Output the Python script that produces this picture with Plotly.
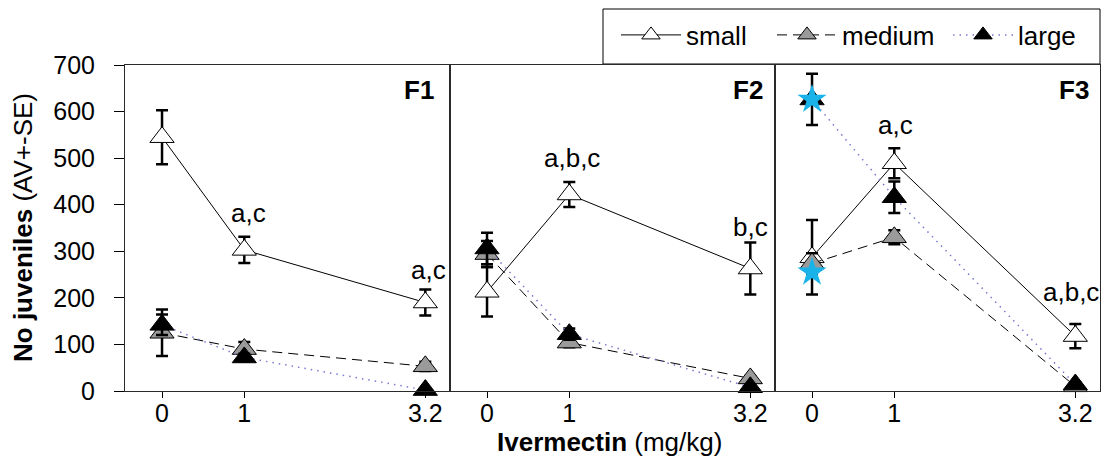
import plotly.graph_objects as go
from plotly.subplots import make_subplots

# Doses (mg/kg) and panel names
doses = [0, 1, 3.2]
dose_labels = ["0", "1", "3.2"]
farms = ["F1", "F2", "F3"]
y_ticks = [0, 100, 200, 300, 400, 500, 600, 700]

# Mean number of juveniles and standard errors per size class, per farm
small_f1 = [545, 303, 190]
small_se_f1 = [58, 28, 28]
medium_f1 = [125, 90, 53]
medium_se_f1 = [50, 15, 10]
large_f1 = [142, 72, 2]
large_se_f1 = [22, 8, 2]

small_f2 = [213, 422, 263]
small_se_f2 = [53, 27, 56]
medium_f2 = [294, 104, 27]
medium_se_f2 = [28, 10, 5]
large_f2 = [306, 122, 8]
large_se_f2 = [34, 12, 4]

small_f3 = [287, 489, 118]
small_se_f3 = [80, 32, 26]
medium_f3 = [274, 330, 10]
medium_se_f3 = [22, 15, 4]
large_f3 = [626, 416, 14]
large_se_f3 = [55, 34, 5]

# Highlighted control values in F3
star_dose_f3 = [0, 0]
star_value_f3 = [626, 255]

# Significance letters
sig_farm = [1, 1, 2, 2, 3, 3]
sig_dose = [1, 3.2, 1, 3.2, 1, 3.2]
sig_value = [383, 260, 500, 353, 571, 213]
sig_text = ["a,c", "a,c", "a,b,c", "b,c", "a,c", "a,b,c"]
sig_xshift = [4, 3, 3, 0, 1, -4]

small_means = [small_f1, small_f2, small_f3]
small_ses = [small_se_f1, small_se_f2, small_se_f3]
medium_means = [medium_f1, medium_f2, medium_f3]
medium_ses = [medium_se_f1, medium_se_f2, medium_se_f3]
large_means = [large_f1, large_f2, large_f3]
large_ses = [large_se_f1, large_se_f2, large_se_f3]

FONT = "Liberation Sans, Arial, sans-serif"
FRAME = "#2a2a2a"
TXT = 26

# plot area in pixels: x 125..1100, y 65..391
PX0, PW, PY0, PH = 125, 975, 391, 326


def paper_x(px):
    return (px - PX0) / PW


def paper_y(py):
    return (PY0 - py) / PH


fig = make_subplots(rows=1, cols=3, horizontal_spacing=0, shared_yaxes=True)

styles = [
    ("small", small_means, small_ses, "white",
     dict(color="black", width=1), "legend"),
    ("medium", medium_means, medium_ses, "#9a9a9a",
     dict(color="black", width=1, dash="10px,6px"), "legend2"),
    ("large", large_means, large_ses, "black",
     dict(color="#7a7ad0", width=1.5, dash="1.5px,5px"), "legend3"),
]

for col in range(1, 4):
    for name, means, ses, fill, line, leg in styles:
        fig.add_trace(
            go.Scatter(
                x=doses,
                y=means[col - 1],
                mode="lines+markers",
                name=name,
                legendgroup=name,
                legend=leg,
                showlegend=(col == 1),
                line=line,
                marker=dict(symbol="triangle-up", size=21, color=fill,
                            line=dict(color="black", width=1)),
                error_y=dict(type="data", array=ses[col - 1], visible=True,
                             color="black", thickness=2.5, width=6),
                cliponaxis=False,
            ),
            row=1, col=col,
        )

fig.add_trace(
    go.Scatter(
        x=star_dose_f3, y=star_value_f3, mode="markers", showlegend=False,
        marker=dict(symbol="star", size=22, color="#19b3ea", line=dict(width=0)),
        cliponaxis=False,
    ),
    row=1, col=3,
)

for col in range(1, 4):
    fig.update_xaxes(
        range=[-0.45, 3.5], tickvals=doses, ticktext=dose_labels,
        ticks="outside", ticklen=6, tickwidth=1, tickcolor="black",
        showline=True, linecolor=FRAME, linewidth=1, mirror=True,
        showgrid=False, zeroline=False, ticklabelstandoff=-6,
        tickfont=dict(family=FONT, size=25, color="black"),
        row=1, col=col,
    )
    fig.update_yaxes(
        range=[0, 700], tickvals=y_ticks,
        showline=True, linecolor=FRAME, linewidth=1, mirror=True,
        showgrid=False, zeroline=False,
        ticks="outside" if col == 1 else "", ticklen=10, tickwidth=1, tickcolor="black",
        showticklabels=(col == 1), ticklabelstandoff=14,
        tickfont=dict(family=FONT, size=25, color="black"),
        row=1, col=col,
    )

annotations = []
panel_shift = [-14, -10, -9]
for i, farm in enumerate(farms):
    ax = "" if i == 0 else str(i + 1)
    annotations.append(dict(
        text="<b>%s</b>" % farm, xref="x%s domain" % ax, yref="y%s domain" % ax,
        x=1, y=0.923, xanchor="right", yanchor="middle", xshift=panel_shift[i],
        showarrow=False, font=dict(family=FONT, size=TXT, color="black"),
    ))

for f, d, v, t, s in zip(sig_farm, sig_dose, sig_value, sig_text, sig_xshift):
    ax = "" if f == 1 else str(f)
    annotations.append(dict(
        text=t, xref="x%s" % ax, yref="y%s" % ax, x=d, y=v, xshift=s,
        xanchor="center", yanchor="middle", showarrow=False,
        font=dict(family=FONT, size=TXT, color="black"),
    ))

annotations.append(dict(
    text="<b>No juveniles</b> (AV+-SE)", xref="paper", yref="paper",
    x=paper_x(23), y=0.5, textangle=-90, xanchor="center", yanchor="middle",
    showarrow=False, font=dict(family=FONT, size=TXT, color="black"),
))
annotations.append(dict(
    text="<b>Ivermectin</b> (mg/kg)", xref="paper", yref="paper",
    x=paper_x(609), y=paper_y(442), xanchor="center", yanchor="middle",
    showarrow=False, font=dict(family=FONT, size=TXT, color="black"),
))

# Frame around the legend entries
legend_box = dict(
    type="rect", xref="paper", yref="paper",
    x0=paper_x(603), x1=1.0, y0=paper_y(64), y1=paper_y(9),
    line=dict(color="black", width=1), fillcolor="white", layer="below",
)


def legend_at(px):
    return dict(
        orientation="h", x=paper_x(px), xanchor="left",
        y=paper_y(35), yanchor="middle",
        borderwidth=0, bgcolor="rgba(0,0,0,0)",
        font=dict(family=FONT, size=TXT, color="black"),
        itemwidth=60,
    )


fig.update_layout(
    width=1104, height=459,
    margin=dict(l=125, r=4, t=65, b=68, autoexpand=False),
    paper_bgcolor="white", plot_bgcolor="white",
    font=dict(family=FONT, size=TXT, color="black"),
    annotations=annotations,
    shapes=[legend_box],
    legend=legend_at(616),
    legend2=legend_at(772),
    legend3=legend_at(948),
)

fig.write_html("out.html")
